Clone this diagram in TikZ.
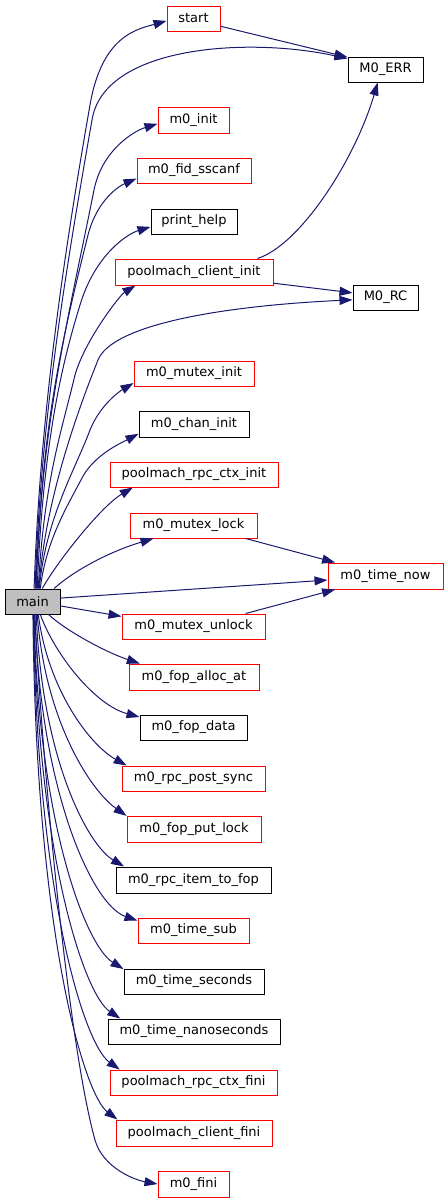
\documentclass[tikz,border=0pt]{standalone}
\usepackage{fontspec}
\setmainfont{DejaVu Sans}
\usetikzlibrary{arrows.meta}
\definecolor{edgec}{HTML}{191970}
\definecolor{redb}{HTML}{FF0000}
\definecolor{greyf}{HTML}{BFBFBF}
\begin{document}
\begin{tikzpicture}[x=0.75pt,y=-0.75pt,
  fn/.style={draw, rectangle, line width=0.75pt, inner sep=0pt, font=\fontsize{9.75pt}{11pt}\selectfont},
  redfn/.style={fn, draw=redb},
  blkfn/.style={fn, draw=black},
  bw/.style={minimum width=#1*0.75pt},
  bh/.style={minimum height=#1*0.75pt},
  edge/.style={draw=edgec, line width=0.75pt, -{Triangle[length=9.75pt,width=6.75pt]}, fill=none},
]
\useasboundingbox (0,0) rectangle (448,1203);

\node[redfn, bw=53, bh=25] (start) at (193.5,18.5) {start};
\node[blkfn, bw=75, bh=25] (merr) at (385.5,69.5) {M0\_ERR};
\node[redfn, bw=71, bh=26] (init) at (193.5,120) {m0\_init};
\node[redfn, bw=114, bh=25] (fid) at (194,170.5) {m0\_fid\_sscanf};
\node[blkfn, bw=86, bh=25] (help) at (194,221.5) {print\_help};
\node[redfn, bw=158, bh=26] (cinit) at (194,272) {poolmach\_client\_init};
\node[blkfn, bw=65, bh=25] (mrc) at (385.5,297.5) {M0\_RC};
\node[redfn, bw=120, bh=25] (minit) at (194,373.5) {m0\_mutex\_init};
\node[blkfn, bw=110, bh=26] (chan) at (194,424) {m0\_chan\_init};
\node[redfn, bw=168, bh=25] (rinit) at (194,474.5) {poolmach\_rpc\_ctx\_init};
\node[redfn, bw=127, bh=25] (lock) at (193.5,525.5) {m0\_mutex\_lock};
\node[redfn, bw=115, bh=26] (now) at (385.5,576) {m0\_time\_now};
\node[blkfn, fill=greyf, bw=55, bh=25] (main) at (32.5,601.5) {main};
\node[redfn, bw=143, bh=25] (unlock) at (193.5,626.5) {m0\_mutex\_unlock};
\node[redfn, bw=130, bh=26] (alloc) at (194,677) {m0\_fop\_alloc\_at};
\node[blkfn, bw=107, bh=25] (fdata) at (193.5,727.5) {m0\_fop\_data};
\node[redfn, bw=143, bh=25] (post) at (193.5,778.5) {m0\_rpc\_post\_sync};
\node[redfn, bw=134, bh=26] (put) at (194,829) {m0\_fop\_put\_lock};
\node[blkfn, bw=155, bh=26] (item) at (193.5,880) {m0\_rpc\_item\_to\_fop};
\node[redfn, bw=111, bh=25] (sub) at (193.5,930.5) {m0\_time\_sub};
\node[blkfn, bw=140, bh=25] (sec) at (194,981.5) {m0\_time\_seconds};
\node[blkfn, bw=172, bh=25] (nsec) at (194,1031.5) {m0\_time\_nanoseconds};
\node[redfn, bw=167, bh=25] (rfini) at (193.5,1082.5) {poolmach\_rpc\_ctx\_fini};
\node[redfn, bw=156, bh=26] (cfini) at (194,1133) {poolmach\_client\_fini};
\node[redfn, bw=71, bh=26] (fini) at (193.5,1184) {m0\_fini};

% upper edges from main
\draw[edge] (main.83) .. controls (40,420) and (62,265) .. (90,105) .. controls (102,35) and (138,29) .. (start.185);
\draw[edge] (main.79) .. controls (41,420) and (64,280) .. (92,120) .. controls (104,45) and (250,37) .. (merr.164);
\draw[edge] (main.76) .. controls (42,420) and (68,320) .. (94,190) .. controls (102,150) and (134,131) .. (init.186);
\draw[edge] (main.74) .. controls (42,430) and (58,355) .. (88,235) .. controls (97,200) and (119,186) .. (fid.188);
\draw[edge] (main.70) .. controls (43,440) and (63,360) .. (80,305) .. controls (95,255) and (127,234) .. (help.187);
\draw[edge] (main.66) .. controls (44,480) and (62,430) .. (75,375) .. controls (85,340) and (120,295) .. (cinit.193);
\draw[edge] (main.64) .. controls (45,500) and (78,410) .. (98,360) .. controls (112,325) and (220,306) .. (mrc.184);
\draw[edge] (main.62) .. controls (45,520) and (75,470) .. (90,430) .. controls (100,405) and (120,391) .. (minit.189);
\draw[edge] (main.59) .. controls (46,540) and (68,505) .. (82,478) .. controls (94,455) and (121,443) .. (chan.190);
\draw[edge] (main.53) .. controls (55,565) and (100,507) .. (rinit.192);
\draw[edge] (main.31) .. controls (72,572) and (108,552) .. (lock.198);

% side edges
\draw[edge] (main.7) -- (now.184);
\draw[edge] (main.351) -- (unlock.172);
\draw[edge] (lock.346) -- (now.165);
\draw[edge] (unlock.14) -- (now.195);
\draw[edge] (start.344) -- (merr.162);
\draw[edge] (cinit.352) -- (mrc.172);
\draw[edge] (cinit.12) .. controls (300,245) and (355,160) .. (merr.239);

% lower edges from main
\draw[edge] (main.321) .. controls (65,630) and (105,652) .. (alloc.166);
\draw[edge] (main.301) .. controls (55,655) and (95,705) .. (fdata.169);
\draw[edge] (main.294) .. controls (48,690) and (90,745) .. (post.169);
\draw[edge] (main.290) .. controls (45,720) and (90,790) .. (put.169);
\draw[edge] (main.286) .. controls (42,760) and (88,845) .. (item.169);
\draw[edge] (main.281) .. controls (40,790) and (92,905) .. (sub.170);
\draw[edge] (main.277) .. controls (38,820) and (85,945) .. (sec.170);
\draw[edge] (main.276) .. controls (38,860) and (85,995) .. (nsec.170);
\draw[edge] (main.274) .. controls (37,900) and (85,1045) .. (rfini.170);
\draw[edge] (main.272) .. controls (36,940) and (85,1095) .. (cfini.170);
\draw[edge] (main.279) .. controls (45,800) and (70,1050) .. (95,1140) .. controls (103,1168) and (135,1180) .. (fini.west);
\end{tikzpicture}
\end{document}
